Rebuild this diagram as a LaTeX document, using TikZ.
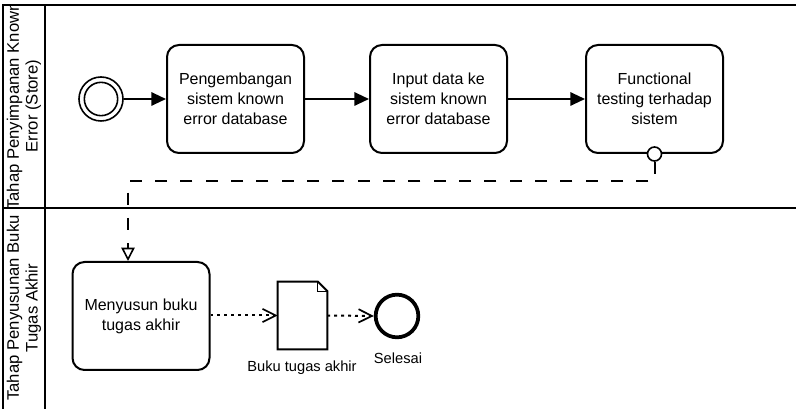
\documentclass[tikz,border=0pt]{standalone}
\usepackage{fontspec}
\setmainfont{Liberation Sans}
\usetikzlibrary{arrows.meta,shapes.geometric}

\begin{document}
\begin{tikzpicture}[x=0.75pt,y=-0.75pt,
  lane/.style={line width=1.5pt},
  lanetitle/.style={rotate=90, align=center, font=\fontsize{12.5}{14}\selectfont, inner sep=0pt},
  task/.style={draw, line width=1.5pt, rounded corners=9pt, fill=white,
    minimum width=102.75pt, minimum height=81pt, align=center,
    font=\fontsize{12}{15}\selectfont, inner sep=2pt},
  seqflow/.style={line width=1.5pt, -{Triangle[length=11pt,width=10pt]}},
  assoc/.style={line width=1.5pt, dash pattern=on 2.2pt off 3pt,
    -{Straight Barb[length=10pt,width=10pt,line width=1.3pt]}},
  msgflow/.style={line width=1.5pt, dash pattern=on 9pt off 10pt,
    -{Triangle[open,length=10pt,width=10pt,line width=1.2pt,fill=white]}},
  caption/.style={font=\fontsize{11}{13}\selectfont, inner sep=1pt}
]
\useasboundingbox (0,0) rectangle (796,409);

% pool and lanes
\draw[lane] (3,420) -- (3,5) -- (800,5);
\draw[lane] (45,5) -- (45,420);
\draw[lane] (3,208) -- (800,208);

% lane titles
\begin{scope}
  \clip (3,5) rectangle (45,208);
  \node[lanetitle] (lane1) at (24,106) {Tahap Penyimpanan Known\\Error (Store)};
\end{scope}
\begin{scope}
  \clip (3,208) rectangle (45,409);
  \node[lanetitle] (lane2) at (24,308) {Tahap Penyusunan Buku\\Tugas Akhir};
\end{scope}

% start event
\node[circle, draw, line width=1.2pt, minimum size=33pt, inner sep=0pt] (start) at (101,99) {};
\node[circle, draw, line width=1.2pt, minimum size=25pt, inner sep=0pt] (startin) at (101,99) {};

% tasks
\node[task] (t1) at (235.5,99) {Pengembangan\\sistem known\\error database};
\node[task] (t2) at (438.5,99) {Input data ke\\sistem known\\error database};
\node[task] (t3) at (654.5,99) {Functional\\testing terhadap\\sistem};
\node[task] (t4) at (141,316) {Menyusun buku\\tugas akhir};

% boundary event on the testing task
\node[circle, draw, line width=1.2pt, fill=white, minimum size=10.5pt, inner sep=0pt] (bnd) at (t3.south) {};

% data object
\node[minimum width=36.75pt, minimum height=50.25pt, inner sep=0pt] (doc) at (302.5,315.5) {};
\draw[line width=1.5pt, fill=white, line join=miter]
  (doc.south west) -- (doc.north west) -- ([xshift=-7pt]doc.north east)
  -- ([yshift=-7pt]doc.north east) -- (doc.south east) -- cycle;
\draw[line width=0.8pt] ([xshift=-7pt]doc.north east) -- ([xshift=-7pt,yshift=-7pt]doc.north east)
  -- ([yshift=-7pt]doc.north east);
\node[caption] (doclabel) at (302,368) {Buku tugas akhir};

% end event
\node[circle, draw, line width=2.8pt, minimum size=32pt, inner sep=0pt] (end) at (397,316) {};
\node[caption] (endlabel) at (398,358) {Selesai};

% sequence flows
\draw[seqflow] (start) -- (t1);
\draw[seqflow] (t1) -- (t2);
\draw[seqflow] (t2) -- (t3);

% message flow
\coordinate (mbend) at (128,181);
\draw[msgflow] (bnd.south) -- (bnd.south |- mbend) -- (mbend) -- (mbend |- t4.north);

% associations
\draw[assoc] (t4.east |- doc.center) -- (doc.west);
\draw[assoc] (doc.east) -- (end.west);
\end{tikzpicture}
\end{document}
